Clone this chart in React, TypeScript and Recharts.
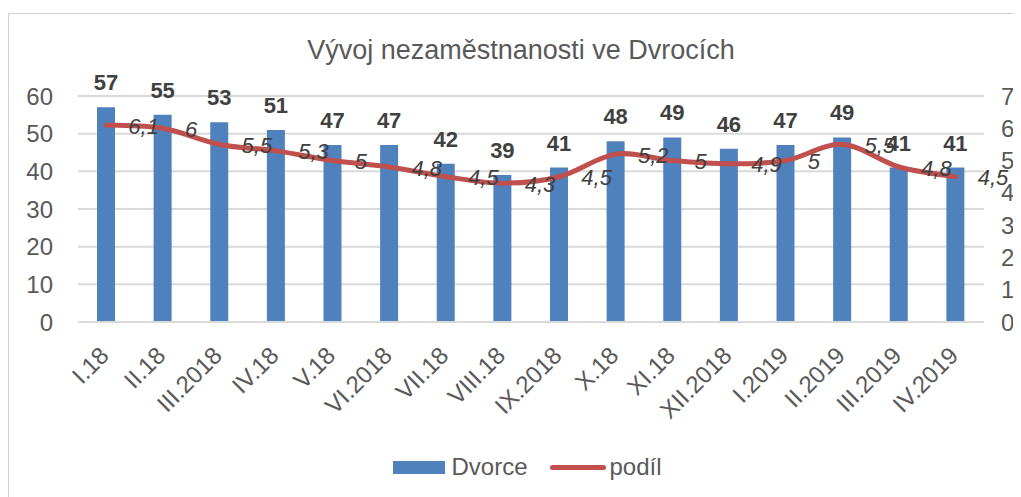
import React from 'react';
import { ComposedChart, Bar, Line, XAxis, YAxis, CartesianGrid, Legend, LabelList } from 'recharts';

const months = [
  'I.18', 'II.18', 'III.2018', 'IV.18', 'V.18', 'VI.2018', 'VII.18', 'VIII.18',
  'IX.2018', 'X.18', 'XI.18', 'XII.2018', 'I.2019', 'II.2019', 'III.2019', 'IV.2019',
];
const dvorce = [57, 55, 53, 51, 47, 47, 42, 39, 41, 48, 49, 46, 47, 49, 41, 41];
const podil = [6.1, 6, 5.5, 5.3, 5, 4.8, 4.5, 4.3, 4.5, 5.2, 5, 4.9, 5, 5.5, 4.8, 4.5];
const leftTicks = [0, 10, 20, 30, 40, 50, 60];
const rightTicks = [0, 1, 2, 3, 4, 5, 6, 7];

const data = months.map((m, i) => ({ month: m, dvorce: dvorce[i], podil: podil[i] }));

const FONT = '"Liberation Sans", Arial, sans-serif';
const BLUE = '#4F81BD';
const RED = '#C0504D';
const GRID = '#d9d9d9';

const fmt = (v: number) => String(v).replace('.', ',');

// Excel-like smoothed line (Catmull-Rom through the points)
const smoothCurve = (context: any) => {
  let pts: number[][] = [];
  return {
    areaStart() {},
    areaEnd() {},
    lineStart() {
      pts = [];
    },
    point(x: number, y: number) {
      pts.push([+x, +y]);
    },
    lineEnd() {
      if (!pts.length) return;
      context.moveTo(pts[0][0], pts[0][1]);
      const k = 1 / 6;
      for (let i = 0; i < pts.length - 1; i++) {
        const p0 = pts[Math.max(i - 1, 0)];
        const p1 = pts[i];
        const p2 = pts[i + 1];
        const p3 = pts[Math.min(i + 2, pts.length - 1)];
        context.bezierCurveTo(
          p1[0] + (p2[0] - p0[0]) * k,
          p1[1] + (p2[1] - p0[1]) * k,
          p2[0] - (p3[0] - p1[0]) * k,
          p2[1] - (p3[1] - p1[1]) * k,
          p2[0],
          p2[1],
        );
      }
    },
  };
};

const MonthTick = (props: any) => {
  const { x, y, payload } = props;
  return (
    <text
      transform={`translate(${x + 4},${y + 35}) rotate(-45)`}
      textAnchor="end"
      fill="#595959"
      fontSize={24}
      fontFamily={FONT}
    >
      {payload.value}
    </text>
  );
};

const BarValue = (props: any) => {
  const { x, y, width, value } = props;
  return (
    <text x={x + width / 2} y={y - 17} textAnchor="middle" fontSize={22} fontWeight="bold" fill="#404040" fontFamily={FONT}>
      {value}
    </text>
  );
};

const LineValue = (props: any) => {
  const { x, y, value } = props;
  return (
    <text x={x + 22} y={y + 1} dominantBaseline="central" fontStyle="italic" fontSize={22} fill="#404040" fontFamily={FONT}>
      {fmt(value)}
    </text>
  );
};

const LegendBox = () => (
  <div
    style={{
      display: 'flex',
      justifyContent: 'center',
      alignItems: 'center',
      height: 30,
      fontSize: 24,
      color: '#595959',
      fontFamily: FONT,
      paddingLeft: 26,
    }}
  >
    <span style={{ width: 52, height: 13, background: BLUE, display: 'inline-block', marginRight: 6 }} />
    <span>Dvorce</span>
    <span
      style={{ width: 56, height: 5, borderRadius: 3, background: RED, display: 'inline-block', marginLeft: 23, marginRight: 3 }}
    />
    <span>podíl</span>
  </div>
);

export default function App() {
  return (
    <div style={{ position: 'relative', width: 1013, height: 489, overflow: 'hidden', fontFamily: FONT }}>
      <div
        style={{
          position: 'absolute',
          top: 5,
          left: 0,
          width: 1040,
          height: 520,
          border: '1px solid #d0d0d0',
          boxSizing: 'border-box',
        }}
      />
      <div style={{ position: 'absolute', top: 0, left: 0 }}>
        <ComposedChart width={1013} height={489} data={data} margin={{ top: 88, right: 0, bottom: 15, left: 0 }}>
          <text x={513} y={42} textAnchor="middle" dominantBaseline="central" fontSize={27} fill="#595959" fontFamily={FONT}>
            Vývoj nezaměstnanosti ve Dvrocích
          </text>
          <CartesianGrid yAxisId="left" vertical={false} stroke={GRID} strokeWidth={2} />
          <XAxis
            dataKey="month"
            interval={0}
            height={130}
            tickSize={0}
            tickMargin={0}
            tickLine={false}
            axisLine={{ stroke: GRID, strokeWidth: 2 }}
            tick={<MonthTick />}
          />
          <YAxis
            yAxisId="left"
            domain={[0, 60]}
            ticks={leftTicks}
            width={70}
            axisLine={false}
            tickLine={false}
            tickSize={0}
            tickMargin={25}
            tick={{ fill: '#595959', fontSize: 24, fontFamily: FONT }}
          />
          <YAxis
            yAxisId="right"
            orientation="right"
            domain={[0, 7]}
            ticks={rightTicks}
            width={37}
            axisLine={false}
            tickLine={false}
            tickSize={0}
            tickMargin={17}
            tick={{ fill: '#595959', fontSize: 24, fontFamily: FONT }}
          />
          <Bar yAxisId="left" dataKey="dvorce" name="Dvorce" fill={BLUE} barSize={18} isAnimationActive={false}>
            <LabelList dataKey="dvorce" content={<BarValue />} />
          </Bar>
          <Line
            yAxisId="right"
            type={smoothCurve as any}
            dataKey="podil"
            name="podíl"
            stroke={RED}
            strokeWidth={5}
            strokeLinecap="round"
            strokeLinejoin="round"
            dot={false}
            isAnimationActive={false}
          >
            <LabelList dataKey="podil" content={<LineValue />} />
          </Line>
          <Legend verticalAlign="bottom" content={<LegendBox />} />
        </ComposedChart>
      </div>
    </div>
  );
}
